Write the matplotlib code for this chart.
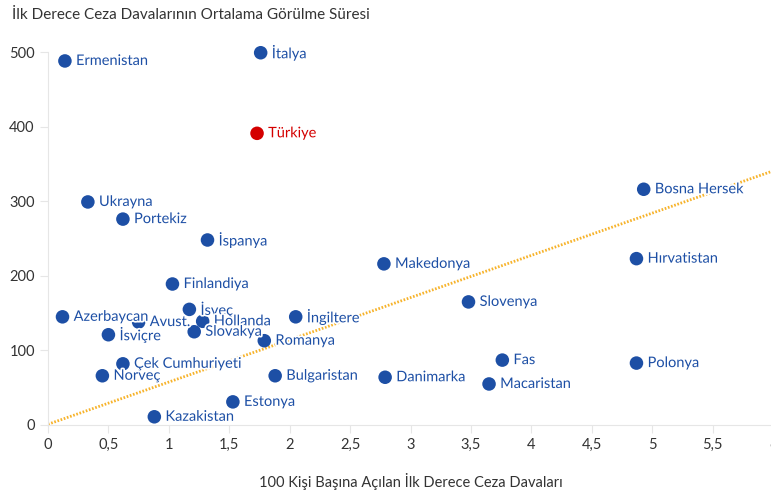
import matplotlib.pyplot as plt
import matplotlib.patheffects as pe
import numpy as np

plt.rcParams['font.family'] = ['Lato', 'DejaVu Sans']

# ilk derece ceza davaları: 100 kişi başına dava sayısı ve ortalama görülme süresi (gün)
countries = ['Ermenistan', 'İtalya', 'Türkiye', 'Ukrayna', 'Portekiz', 'İspanya',
             'Makedonya', 'Bosna Hersek', 'Hırvatistan', 'Finlandiya', 'Slovenya',
             'Azerbaycan', 'İsveç', 'Avust.', 'Hollanda', 'Slovakya', 'İsviçre',
             'Romanya', 'İngiltere', 'Çek Cumhuriyeti', 'Norveç', 'Bulgaristan',
             'Danimarka', 'Estonya', 'Kazakistan', 'Fas', 'Macaristan', 'Polonya']
cases = [0.14, 1.76, 1.73, 0.33, 0.62, 1.32,
         2.78, 4.93, 4.87, 1.03, 3.48,
         0.12, 1.17, 0.75, 1.28, 1.21, 0.50,
         1.79, 2.05, 0.62, 0.45, 1.88,
         2.79, 1.53, 0.88, 3.76, 3.65, 4.87]
days = [488, 499, 391, 299, 276, 248,
        216, 316, 223, 189, 165,
        145, 155, 138, 139, 125, 121,
        113, 145, 82, 66, 66,
        64, 31, 11, 87, 55, 83]

trend_slope = 56.6
trend_intercept = 1.0

blue = '#1d4fa5'
red = '#d40000'

fig = plt.figure(figsize=(7.71, 4.92), dpi=100)
ax = fig.add_axes([48 / 771, 67 / 492, 725 / 771, 373 / 492])

xs = np.array([0, 6.2])
ax.plot(xs, trend_intercept + trend_slope * xs, color='#f7b32b', lw=2.0,
        linestyle=(0, (0.6, 0.6)), zorder=1)

colors = [red if c == 'Türkiye' else blue for c in countries]
ax.scatter(cases, days, s=95, c=colors, zorder=3, clip_on=False, linewidths=0)

for name, x, y, col in zip(countries, cases, days, colors):
    ax.annotate(name, (x, y), xytext=(8, 0), textcoords='offset points',
                va='center', ha='left', fontsize=10.5, color=col, zorder=4,
                path_effects=[pe.withStroke(linewidth=2.5, foreground='white')])

ax.set_xlim(0, 6)
ax.set_ylim(0, 500)
ax.set_xticks(np.arange(0, 6.01, 0.5))
ax.set_xticklabels(['0', '0,5', '1', '1,5', '2', '2,5', '3', '3,5', '4', '4,5',
                    '5', '5,5', '6'])
ax.set_yticks(range(0, 501, 100))

for s in ['top', 'right']:
    ax.spines[s].set_visible(False)
for s in ['left', 'bottom']:
    ax.spines[s].set_color('#e6e6e6')
ax.tick_params(colors='#e6e6e6', labelcolor='#333333', labelsize=10.5, length=6)

ax.set_xlabel('100 Kişi Başına Açılan İlk Derece Ceza Davaları', fontsize=10.5,
              color='#333333', labelpad=15)
fig.text(12 / 771, 1 - 15 / 492, 'İlk Derece Ceza Davalarının Ortalama Görülme Süresi',
         fontsize=11, color='#333333', va='center', ha='left')

fig.savefig('out.png', dpi=100)
